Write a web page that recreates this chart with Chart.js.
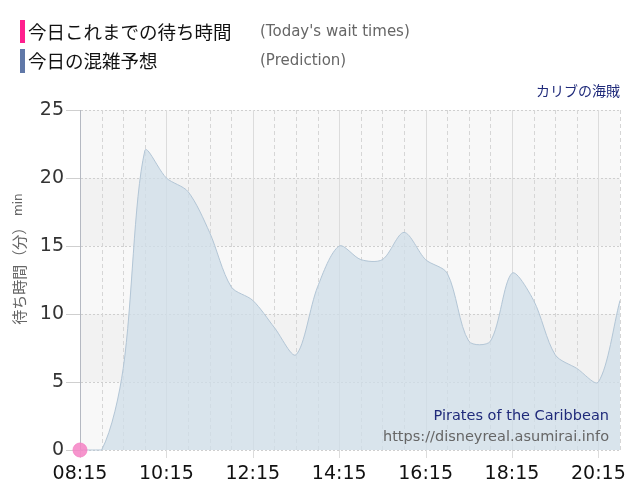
<!DOCTYPE html>
<html lang="ja">
<head>
  <meta charset="UTF-8" />
  <title>カリブの海賊 待ち時間</title>
  <style>
    body { margin: 0; background: #fff; }
    #wrap { position: relative; width: 640px; height: 500px; overflow: hidden; }
    canvas { position: absolute; left: 0; top: 0; }
    .bar { position: absolute; left: 20px; width: 5px; }
    .jp { position: absolute; left: 28px; font: 18.5px "Noto Sans CJK JP", sans-serif; color: #111; line-height: 24px; }
    .en { position: absolute; left: 260px; font: 15px "DejaVu Sans", sans-serif; color: #666; line-height: 24px; }
    .name { position: absolute; right: 20px; top: 80px; font: 14px "Noto Sans CJK JP", sans-serif; color: #1f2a7a; }
  </style>
  <script src="https://cdn.jsdelivr.net/npm/chart.js"></script>
</head>
<body>
<div id="wrap">
  <canvas id="waitChart" width="640" height="500"></canvas>
  <div class="bar" style="top:20px;height:23px;background:#ff1f8e"></div>
  <div class="jp" style="top:19px">今日これまでの待ち時間</div>
  <div class="en" style="top:19px">(Today's wait times)</div>
  <div class="bar" style="top:49px;height:24px;background:#6078a8"></div>
  <div class="jp" style="top:48px">今日の混雑予想</div>
  <div class="en" style="top:48px">(Prediction)</div>
  <div class="name">カリブの海賊</div>
</div>

<script>
  // 30分ごとの時刻
  const times = ['08:15','08:45','09:15','09:45','10:15','10:45','11:15','11:45','12:15','12:45',
                 '13:15','13:45','14:15','14:45','15:15','15:45','16:15','16:45','17:15','17:45',
                 '18:15','18:45','19:15','19:45','20:15','20:45'];
  // 今日の混雑予想（分）
  const prediction = [0, 0, 6, 22, 20, 19, 16, 12, 11, 9, 7, 12, 15, 14, 14, 16, 14, 13, 8, 8, 13, 11, 7, 6, 5, 11];
  // 今日これまでの待ち時間（分）
  const today = [0];
  const yTicks = [0, 5, 10, 15, 20, 25];

  // 背景の帯と縦グリッド、透かし文字
  const decor = {
    id: 'decor',
    beforeDraw(chart) {
      const { ctx, chartArea: a, scales: { y } } = chart;
      ctx.save();
      for (let i = 0; i < yTicks.length - 1; i++) {
        const top = y.getPixelForValue(yTicks[i + 1]);
        const bot = y.getPixelForValue(yTicks[i]);
        ctx.fillStyle = i % 2 === 0 ? '#f8f8f8' : '#f2f2f2';
        ctx.fillRect(a.left, top, a.right - a.left, bot - top);
      }
      ctx.restore();
    },
    beforeDatasetsDraw(chart) {
      const { ctx, chartArea: a, scales: { x } } = chart;
      ctx.save();
      ctx.lineWidth = 1;
      times.forEach((t, i) => {
        const px = Math.round(x.getPixelForValue(i)) + 0.5;
        ctx.strokeStyle = i % 4 === 0 ? '#dcdcdc' : '#d6d6d6';
        ctx.setLineDash(i % 4 === 0 ? [] : [4, 3]);
        ctx.beginPath();
        ctx.moveTo(px, i === 0 ? a.bottom : a.top);
        ctx.lineTo(px, i % 4 === 0 ? a.bottom + 8 : a.bottom);
        ctx.stroke();
      });
      ctx.restore();
    },
    afterDatasetsDraw(chart) {
      const { ctx, chartArea: a } = chart;
      ctx.save();
      ctx.textAlign = 'right';
      ctx.textBaseline = 'middle';
      ctx.font = '14.5px "DejaVu Sans", sans-serif';
      ctx.fillStyle = '#1f2a7a';
      ctx.fillText('Pirates of the Caribbean', a.right - 11, 416);
      ctx.fillStyle = '#666';
      ctx.fillText('https://disneyreal.asumirai.info', a.right - 11, 437);

      // 縦軸タイトル
      ctx.translate(19, 259);
      ctx.rotate(-Math.PI / 2);
      ctx.textAlign = 'left';
      ctx.fillStyle = '#666';
      const jp = '待ち時間（分）';
      ctx.font = '15px "Noto Sans CJK JP", sans-serif';
      const w1 = ctx.measureText(jp).width;
      ctx.font = '12px "DejaVu Sans", sans-serif';
      const w2 = ctx.measureText(' min').width;
      const start = -(w1 + w2) / 2;
      ctx.font = '15px "Noto Sans CJK JP", sans-serif';
      ctx.fillText(jp, start, 0);
      ctx.font = '12px "DejaVu Sans", sans-serif';
      ctx.fillText(' min', start + w1, 0);
      ctx.restore();
    }
  };

  const ctx = document.getElementById('waitChart').getContext('2d');
  const chart = new Chart(ctx, {
    type: 'line',
    data: {
      labels: times,
      datasets: [{
        label: '今日これまでの待ち時間',
        data: today,
        borderColor: 'rgba(244,130,196,0.85)',
        backgroundColor: 'rgba(244,130,196,0.85)',
        pointRadius: 7,
        pointHoverRadius: 7,
        showLine: false,
        clip: false
      }, {
        label: '今日の混雑予想',
        data: prediction,
        borderColor: '#b3c6d6',
        borderWidth: 1,
        backgroundColor: 'rgba(207,221,232,0.75)',
        fill: 'origin',
        tension: 0.3,
        pointRadius: 0,
        clip: { left: 0, top: 0, right: 0, bottom: 4 }
      }]
    },
    options: {
      responsive: false,
      animation: false,
      layout: { padding: { top: 110, right: 20 } },
      plugins: { legend: { display: false }, tooltip: { enabled: false } },
      scales: {
        x: {
          grid: { display: false },
          border: { display: false },
          afterFit(scale) { scale.height = 50; },
          ticks: {
            autoSkip: false,
            maxRotation: 0,
            padding: 5,
            color: '#111',
            font: { family: 'DejaVu Sans', size: 19 },
            callback: (v, i) => (i % 4 === 0 ? times[i] : '')
          }
        },
        y: {
          min: 0,
          max: 25,
          afterFit(scale) { scale.width = 80; },
          border: { display: true, color: '#b5b9c2', dash: [2, 2] },
          grid: { color: '#cfcfcf', tickLength: 14, tickBorderDash: [] },
          ticks: {
            stepSize: 5,
            padding: 2,
            color: '#333',
            font: { family: 'DejaVu Sans', size: 19 }
          }
        }
      }
    },
    plugins: [decor]
  });
</script>
</body>
</html>
